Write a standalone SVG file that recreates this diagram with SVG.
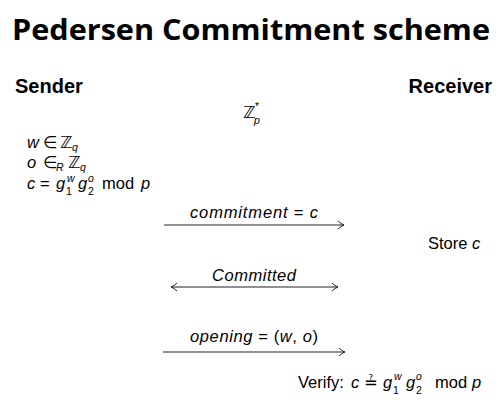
<svg xmlns="http://www.w3.org/2000/svg" width="504" height="412" viewBox="0 0 504 412">
<defs>
<style>
text{font-family:"Liberation Sans",Arial,sans-serif;fill:#000}
.title{font-family:"Open Sans","Liberation Sans",sans-serif;font-weight:bold;font-size:29px}
.head{font-weight:bold;font-size:20px}
.m{font-size:16.5px}
.i{font-style:italic}
.s{font-size:10.5px}
.dv{font-family:"DejaVu Sans",sans-serif}
.conn{stroke:#222;stroke-width:1;fill:none}
</style>
<marker id="ah" viewBox="0 0 8 10" refX="7" refY="5" markerWidth="8" markerHeight="10" orient="auto-start-reverse" markerUnits="userSpaceOnUse">
<path d="M1,1 Q4,4 7,5 Q4,6 1,9" fill="none" stroke="#222" stroke-width="1"/>
</marker>
</defs>
<rect width="504" height="412" fill="#fff"/>
<g id="title"><text class="title" x="251" y="40" text-anchor="middle" textLength="478" lengthAdjust="spacingAndGlyphs">Pedersen Commitment scheme</text></g>
<g id="sender">
<text class="head" x="15" y="93">Sender</text>
<text class="m i" x="27" y="148">w</text>
<text class="m dv" x="43" y="148">∈</text>
<text class="m dv" x="60" y="148">ℤ</text>
<text class="s i" x="72" y="150.5">q</text>
<text class="m i" x="27" y="168">o</text>
<text class="m dv" x="43" y="168">∈</text>
<text class="s i" x="56" y="171">R</text>
<text class="m dv" x="68" y="168">ℤ</text>
<text class="s i" x="80" y="171">q</text>
<text class="m i" x="27" y="189">c</text>
<text class="m" x="40" y="189">=</text>
<text class="m i" x="56" y="189">g</text>
<text class="s" x="66" y="195">1</text>
<text class="s i" x="67" y="182">w</text>
<text class="m i" x="78" y="189">g</text>
<text class="s" x="88" y="195">2</text>
<text class="s i" x="88" y="182">o</text>
<text class="m" x="102" y="189">mod</text>
<text class="m i" x="141" y="189">p</text>
</g>
<g id="group">
<text class="m dv" x="243" y="118">ℤ</text>
<text class="s" x="255" y="110">*</text>
<text class="s i" x="254" y="124">p</text>
</g>
<g id="receiver">
<text class="head" x="492" y="93" text-anchor="end">Receiver</text>
<text class="m" x="428" y="249">Store <tspan class="i">c</tspan></text>
<text class="m" x="298" y="388">Verify:</text>
<text class="m i" x="351" y="388">c</text>
<text class="m dv" x="364" y="388">≟</text>
<text class="m i" x="383" y="388">g</text>
<text class="s" x="393" y="394">1</text>
<text class="s i" x="394" y="380">w</text>
<text class="m i" x="406" y="388">g</text>
<text class="s" x="416" y="394">2</text>
<text class="s i" x="416" y="380">o</text>
<text class="m" x="435" y="388">mod</text>
<text class="m i" x="472" y="388">p</text>
</g>
<g id="connectors">
<line class="conn" x1="164" y1="225" x2="344" y2="225" marker-end="url(#ah)"/>
<text class="m i" x="254" y="218" text-anchor="middle" textLength="128" lengthAdjust="spacing">commitment <tspan font-style="normal">=</tspan> c</text>
<line class="conn" x1="171" y1="287" x2="338" y2="287" marker-start="url(#ah)" marker-end="url(#ah)"/>
<text class="m i" x="254" y="281" text-anchor="middle" textLength="84" lengthAdjust="spacing">Committed</text>
<line class="conn" x1="163" y1="352" x2="345" y2="352" marker-end="url(#ah)"/>
<text class="m" x="254" y="342" text-anchor="middle" textLength="128" lengthAdjust="spacing"><tspan class="i">opening</tspan> = (<tspan class="i">w</tspan>, <tspan class="i">o</tspan>)</text>
</g>
</svg>
